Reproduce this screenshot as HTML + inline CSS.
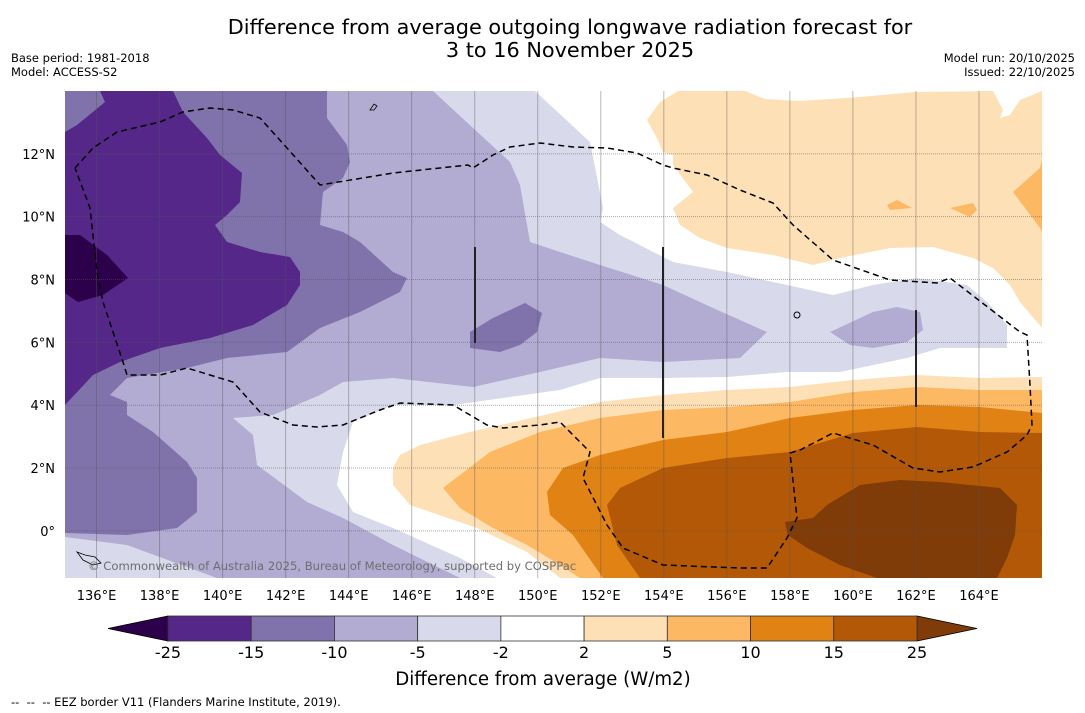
<!DOCTYPE html>
<html><head><meta charset="utf-8"><style>
html,body{margin:0;padding:0;background:#fff;}
#root{position:relative;width:1085px;height:713px;overflow:hidden;font-family:"DejaVu Sans","Liberation Sans",sans-serif;}
svg{position:absolute;left:0;top:0;}
text{white-space:pre;}
</style></head><body>
<div id="root">
<svg id="svg" width="1085" height="713" viewBox="0 0 1085 713">
<text x="570" y="34" font-size="20.8" text-anchor="middle">Difference from average outgoing longwave radiation forecast for</text>
<text x="570" y="57" font-size="20.8" text-anchor="middle">3 to 16 November 2025</text>
<text x="11" y="62" font-size="11.5">Base period: 1981-2018</text>
<text x="11" y="76" font-size="11.5">Model: ACCESS-S2</text>
<text x="1075" y="62" font-size="11.5" text-anchor="end">Model run: 20/10/2025</text>
<text x="1075" y="76" font-size="11.5" text-anchor="end">Issued: 22/10/2025</text>
<defs><clipPath id="pc"><rect x="65" y="91" width="977" height="487"/></clipPath></defs>
<g clip-path="url(#pc)">
<rect x="65" y="91" width="977" height="487" fill="#ffffff"/>
<polygon fill="#d8daeb" points="65,91 535,91 590,142 603,208 600,222 620,235 673,262 727,272 833,295 873,285 917,278 967,285 987,302 1007,325 1007,348 940,348 907,358 840,372 787,372 727,377 663,378 600,378 560,390 453,405 393,405 353,422 343,452 337,485 353,512 393,528 460,558 497,578 65,578"/>
<polygon fill="#b2abd2" points="65,91 433,91 473,128 510,162 520,185 530,242 560,252 600,265 663,285 713,308 767,332 740,358 663,362 600,358 540,372 473,387 393,378 343,382 320,395 273,415 233,418 253,435 257,465 307,502 343,518 393,545 460,578 217,578 127,545 65,537"/>
<polygon fill="#b2abd2" points="830,332 873,312 897,307 920,312 923,330 907,342 873,348 850,345"/>
<polygon fill="#8073ac" points="65,91 327,91 327,118 347,145 350,162 343,178 323,192 320,225 343,232 360,242 393,272 407,278 400,292 360,312 320,328 287,352 227,358 187,368 127,378 110,395 127,402 127,415 153,432 187,462 197,478 197,512 177,528 127,535 65,533"/>
<polygon fill="#8073ac" points="470,332 493,318 525,303 542,313 537,332 520,345 500,352 470,348"/>
<polygon fill="#542788" points="65,132 77,125 105,102 100,91 173,91 183,112 207,138 220,155 242,173 240,202 227,215 215,225 227,242 260,252 290,257 300,272 300,285 287,305 253,325 210,338 160,348 120,362 93,375 65,405"/>
<polygon fill="#2d004b" points="65,235 80,235 107,255 128,278 103,295 78,302 65,293"/>
<polygon fill="#fee0b6" points="678,91 745,91 765,99 800,101 860,97 915,92 993,91 1003,110 1000,118 1010,115 1020,100 1042,91 1042,328 1020,302 1010,285 993,268 973,258 933,247 890,248 840,258 813,265 773,255 727,248 700,238 680,225 673,208 693,192 673,165 673,155 663,152 657,138 647,120 660,102"/>
<polygon fill="#fdb863" points="887,205 897,200 912,208 890,210"/>
<polygon fill="#fdb863" points="950,208 973,203 977,210 970,217"/>
<polygon fill="#fdb863" points="1042,160 1040,168 1013,192 1040,228 1042,232"/>
<polygon fill="#fee0b6" points="420,445 470,432 540,416 600,402 663,395 727,390 790,387 853,380 917,375 980,378 1042,377 1042,578 560,578 527,552 477,528 410,505 393,485 393,468 400,455"/>
<polygon fill="#fdb863" points="443,488 490,452 540,432 600,418 663,410 727,407 790,402 853,392 917,387 980,390 1042,390 1042,578 580,578 560,565 527,545 493,528 460,508"/>
<polygon fill="#e08214" points="547,492 563,468 600,455 663,440 727,432 790,418 853,410 917,405 980,407 1042,413 1042,578 603,578 573,535 550,515"/>
<polygon fill="#b35806" points="607,505 620,488 663,468 727,458 790,452 853,433 917,427 980,432 1042,433 1042,578 640,578 617,545"/>
<polygon fill="#7f3b08" points="785,522 813,518 827,505 860,485 900,480 940,482 1000,488 1017,505 1015,535 1007,558 997,578 877,578 840,565 807,548 788,535"/>
<g id="grid"></g>
<polyline fill="none" stroke="#000" stroke-width="1.5" stroke-dasharray="6,4" points="75,168 93,148 117,132 160,122 183,112 210,108 233,110 260,118 287,148 320,185 393,173 468,165 473,168 493,155 510,147 540,143 573,147 607,148 637,153 663,165 673,168 707,175 740,190 773,203 793,225 833,260 890,280 937,283 950,278 1020,332 1027,335 1030,385 1032,425 1027,435 1007,452 973,467 940,472 913,468 873,445 833,433 800,450 790,453 797,518 787,538 767,568 740,568 663,565 623,548 607,525 583,478 590,452 560,422 540,425 503,428 487,425 453,405 400,403 380,410 360,418 343,425 317,427 293,425 260,412 233,382 187,368 160,375 127,375 123,362 103,302 97,272 90,208 75,168"/>
<line x1="475" y1="247" x2="475" y2="343" stroke="#222" stroke-width="2"/>
<line x1="663" y1="247" x2="663" y2="438" stroke="#222" stroke-width="2"/>
<line x1="916" y1="310" x2="916" y2="407" stroke="#222" stroke-width="2"/>
<path d="M77,552 l8,3 l10,2 l6,6 l-8,2 l-10,-5z" fill="none" stroke="#000" stroke-width="0.8"/>
<path d="M370,110 l4,-6 l3,2 l-3,4z" fill="none" stroke="#000" stroke-width="0.8"/>
<circle cx="797" cy="315" r="3" fill="none" stroke="#000" stroke-width="1"/>
<text x="88" y="570" font-size="11.6" fill="#6e6e6e">© Commonwealth of Australia 2025, Bureau of Meteorology, supported by COSPPac</text>
</g>
<g id="axes"></g>
<g id="cbar"></g>
<text x="543" y="685" font-size="18.2" text-anchor="middle">Difference from average (W/m2)</text>
<text x="11" y="706" font-size="11.5">--  --  -- EEZ border V11 (Flanders Marine Institute, 2019).</text>
</svg>
</div>
<script>
const lonTicks=[136,138,140,142,144,146,148,150,152,154,156,158,160,162,164];
const latTicks=[0,2,4,6,8,10,12];
const cbarLevels=[-25,-15,-10,-5,-2,2,5,10,15,25];
const cbarColors=["#542788","#8073ac","#b2abd2","#d8daeb","#ffffff","#fee0b6","#fdb863","#e08214","#b35806"];
const cbarUnder="#2d004b", cbarOver="#7f3b08";
const NS="http://www.w3.org/2000/svg";
const lonMin=135,lonMax=166,latMin=-1.5,latMax=14;
const X0=65,X1=1042,Y0=91,Y1=578;
function xs(lon){return X0+(lon-lonMin)/(lonMax-lonMin)*(X1-X0);}
function ys(lat){return Y0+(latMax-lat)/(latMax-latMin)*(Y1-Y0);}
function mk(tag,attrs,parent){const e=document.createElementNS(NS,tag);for(const k in attrs)e.setAttribute(k,attrs[k]);parent.appendChild(e);return e;}
const grid=document.getElementById('grid'),axes=document.getElementById('axes'),cbar=document.getElementById('cbar');
lonTicks.forEach(l=>{
  const ln=mk('line',{x1:xs(l),x2:xs(l),y1:Y0,y2:Y1,stroke:'#555','stroke-opacity':0.4,'stroke-width':1},grid);
  
  
  const t=mk('text',{x:xs(l),y:600,'font-size':13,'text-anchor':'middle'},axes);
  t.textContent=l+'°E';
  
  
});
latTicks.forEach(l=>{
  const ln=mk('line',{x1:X0,x2:X1,y1:ys(l),y2:ys(l),stroke:'#555','stroke-opacity':0.5,'stroke-width':1,'stroke-dasharray':'1,1'},grid);
  
  
  const t=mk('text',{x:55,y:ys(l)+5,'font-size':13,'text-anchor':'end'},axes);
  t.textContent=l===0?'0°':l+'°N';
  
  
});
const CB0=168,CB1=917,CBy=616,CBh=25;
const segW=(CB1-CB0)/cbarColors.length;
function cx(i){return CB0+i*segW;}
const tl=mk('polygon',{points:`108,${CBy+CBh/2} ${CB0},${CBy} ${CB0},${CBy+CBh}`,fill:cbarUnder,stroke:'#000','stroke-width':0.8},cbar);


const tr=mk('polygon',{points:`977,${CBy+CBh/2} ${CB1},${CBy} ${CB1},${CBy+CBh}`,fill:cbarOver,stroke:'#000','stroke-width':0.8},cbar);


cbarColors.forEach((c,i)=>{
  const r=mk('rect',{x:cx(i),y:CBy,width:segW,height:CBh,fill:c,stroke:'#333','stroke-width':0.8},cbar);
  
  
});
cbarLevels.forEach((v,i)=>{
  const t=mk('text',{x:cx(i),y:658,'font-size':16,'text-anchor':'middle'},cbar);
  t.textContent=v;
  
  
});
</script>
</body></html>
